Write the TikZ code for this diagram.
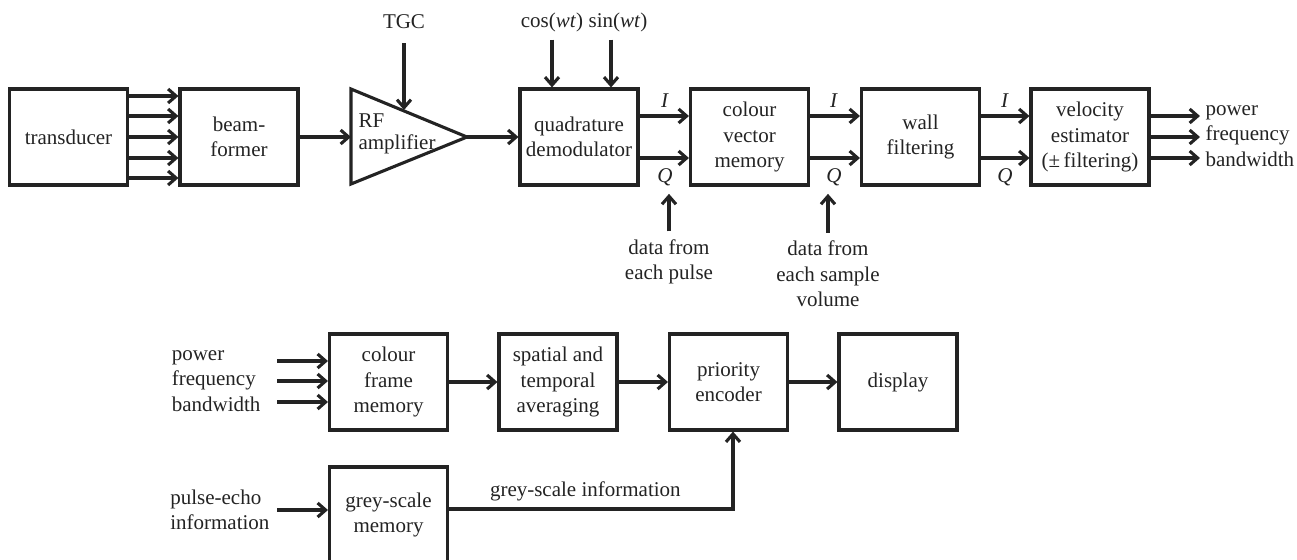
\documentclass[tikz,border=0pt]{standalone}
\usepackage{fontspec}
\setmainfont{Liberation Serif}
\usetikzlibrary{arrows.meta}
\definecolor{ink}{RGB}{35,35,35}

\begin{document}
\begin{tikzpicture}[x=0.5pt,y=-0.5pt,line width=1.55pt,color=ink,
		font=\fontsize{10.5}{12.8}\selectfont,
		blk/.style={draw,minimum width=59pt,minimum height=48pt,align=center,inner sep=1pt},
		arr/.style={-{Straight Barb[length=4pt,width=7pt]}}]
		\useasboundingbox (0,0) rectangle (1297,559);
		% top row
		\node[blk] (trans) at (68.5,137) {transducer};
		\node[blk] (beam) at (239,137) {beam-\\former};
		\node[blk] (quad) at (579,137) {quadrature\\demodulator};
		\node[blk] (cvm) at (749.5,137) {colour\\vector\\memory};
		\node[blk] (wall) at (920.5,137) {wall\\filtering};
		\node[blk] (vel) at (1090,137) {velocity\\estimator\\(±\,filtering)};
		\coordinate (ampA) at (351,89);
		\coordinate (ampout) at (467,137);
		\coordinate (ampB) at (351,184);
		\coordinate (ampin) at (351,137);
		\coordinate (ampT) at (404,110);
		\draw (ampA) -- (ampout) -- (ampB) -- cycle;
		\node[anchor=west,align=left,inner sep=0pt,font=\fontsize{10.5}{11}\selectfont] (amplab) at (357,134) {RF\\amplifier};
		\foreach \dy in {20.5,10.5,0,-10.5,-20.5}
			\draw[arr] ([yshift=\dy pt]trans.east) -- ([yshift=\dy pt]beam.west);
		\draw[arr] (beam) -- (ampin);
		\draw[arr] (ampout) -- (quad);
		\node (tgc) at (404,22) {TGC};
		\draw[arr,shorten <=3pt] (tgc) -- (ampT);
		\node (cosl) at (552,22) {cos(\textit{wt})};
		\node (sinl) at (618,22) {sin(\textit{wt})};
		\draw[arr] (cosl) -- (cosl |- quad.north);
		\draw[arr] ([xshift=-3.5pt]sinl.south) -- ([xshift=-3.5pt]sinl.south |- quad.north);
		\foreach \a/\b in {quad/cvm,cvm/wall,wall/vel}{
			\draw[arr] ([yshift=10.5pt]\a.east) -- ([yshift=10.5pt]\b.west);
			\draw[arr] ([yshift=-10.5pt]\a.east) -- ([yshift=-10.5pt]\b.west);
		}
		\foreach \x/\n in {665/1,834/2,1005/3}{
			\node (i\n) at (\x,101) {\textit{I}};
			\node (q\n) at (\x,177) {\textit{Q}};
		}
		\node[anchor=west,align=left,inner sep=2pt] (vout) at (1200,136) {power\\frequency\\bandwidth};
		\foreach \dy in {10.5,0,-10.5}
			\draw[arr] ([yshift=\dy pt]vel.east) -- ([yshift=\dy pt]vel.east -| vout.west);
		\node[align=center] (dpulse) at (669,262) {data from\\each pulse};
		\node[align=center] (dsample) at (828,274) {data from\\each sample\\volume};
		\draw[arr] (dpulse.north) -- (dpulse.north |- q1.south);
		\draw[arr] (dsample.north) -- (dsample.north |- q2.south);
		% bottom row
		\node[blk] (cfm) at (388.5,382) {colour\\frame\\memory};
		\node[blk] (avg) at (558,382) {spatial and\\temporal\\averaging};
		\node[blk] (prio) at (728.5,382) {priority\\encoder};
		\node[blk] (disp) at (898,382) {display};
		\node[blk] (gsm) at (388.5,515) {grey-scale\\memory};
		\node[anchor=east,align=left,inner xsep=7.5pt] (cin) at (277,381) {power\\frequency\\bandwidth};
		\foreach \dy in {10,0,-10.5}
			\draw[arr] ([yshift=\dy pt]cin.east) -- ([yshift=\dy pt]cin.east -| cfm.west);
		\node[anchor=east,align=left,inner xsep=3pt] (pecho) at (277,510) {pulse-echo\\information};
		\draw[arr] (pecho.east) -- (pecho.east -| gsm.west);
		\draw[arr] (cfm) -- (avg);
		\draw[arr] (avg) -- (prio);
		\draw[arr] (prio) -- (disp);
		\draw[arr] ([yshift=3pt]gsm.east) -| node[pos=0.24,above] (gsi) {grey-scale information} ([xshift=2.25pt]prio.south);
	\end{tikzpicture}
\end{document}
